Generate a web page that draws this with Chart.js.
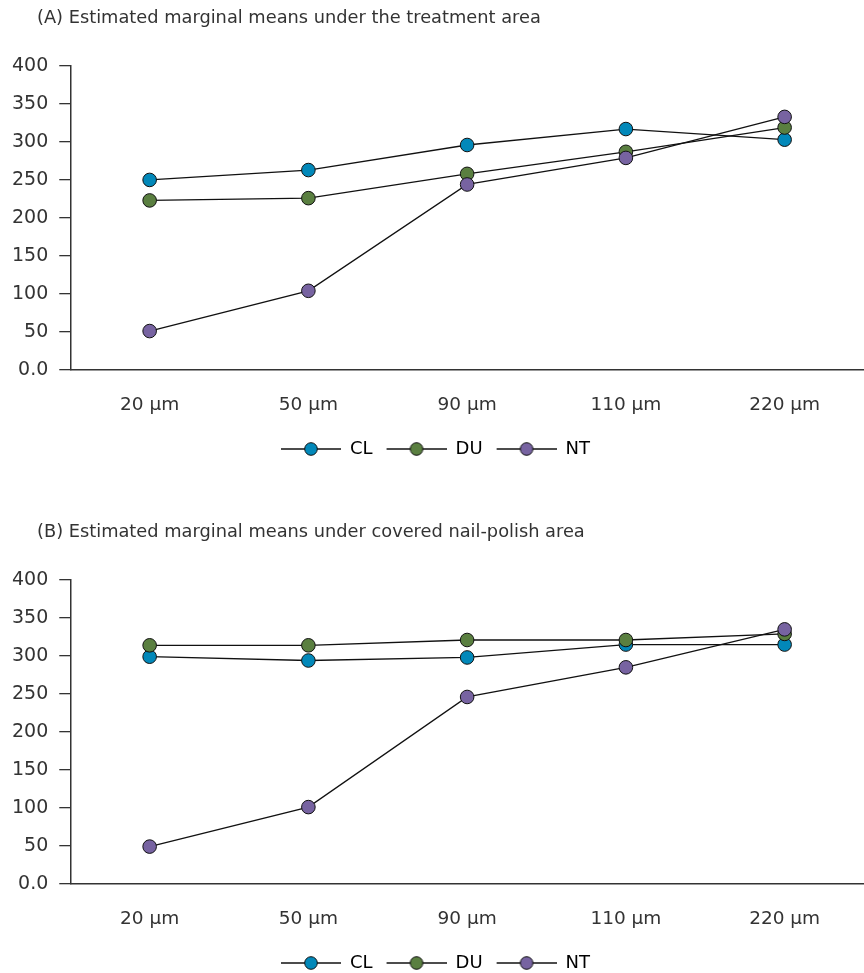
<!DOCTYPE html>
<html>
<head>
<meta charset="utf-8">
<script src="https://cdn.jsdelivr.net/npm/chart.js@4"></script>
<style>
  html, body { margin: 0; padding: 0; background: #fff; overflow: hidden; }
  canvas { display: block; }
</style>
</head>
<body>
<canvas id="chartA" width="864" height="514"></canvas>
<canvas id="chartB" width="864" height="459"></canvas>
<script>
const categories = ['20 μm', '50 μm', '90 μm', '110 μm', '220 μm']
const seriesNames = ['CL', 'DU', 'NT']
const seriesColors = ['#0288b9', '#5a7f40', '#7763a1']

// (A) treatment area
const treatCL = [250, 263, 296, 317, 303]
const treatDU = [223, 226, 258, 287, 319]
const treatNT = [51, 104, 244, 279, 333]

// (B) covered nail-polish area
const coverCL = [299, 294, 298, 315, 315]
const coverDU = [314, 314, 321, 321, 329]
const coverNT = [49, 101, 246, 285, 335]

const yTicks = [0, 50, 100, 150, 200, 250, 300, 350, 400]

const textColor = '#333333'
const fontFamily = '"DejaVu Sans", sans-serif'
Chart.defaults.font.family = fontFamily
Chart.defaults.color = textColor

// legend swatch: short line with a marker in the middle (6px blank on the left)
function makeSwatch(color) {
  const c = document.createElement('canvas')
  c.width = 66
  c.height = 16
  const g = c.getContext('2d')
  g.strokeStyle = '#111'
  g.lineWidth = 1.3
  g.beginPath()
  g.moveTo(6, 8)
  g.lineTo(66, 8)
  g.stroke()
  g.beginPath()
  g.arc(36, 8, 6.3, 0, Math.PI * 2)
  g.fillStyle = color
  g.fill()
  g.lineWidth = 1
  g.stroke()
  return c
}
const swatches = seriesColors.map(makeSwatch)

const headline = {
  id: 'headline',
  afterDraw: chart => {
    const ctx = chart.ctx
    ctx.save()
    ctx.font = '17.8px ' + fontFamily
    ctx.fillStyle = textColor
    ctx.textBaseline = 'middle'
    ctx.textAlign = 'left'
    ctx.fillText(chart.options.plugins.headline.text, 37, 18)
    ctx.restore()
  },
}

function buildChart(id, title, cl, du, nt, bottomPad) {
  const values = [cl, du, nt]
  const datasets = seriesNames.map((name, i) => ({
    label: name,
    data: values[i],
    borderColor: '#111',
    borderWidth: 1.3,
    backgroundColor: seriesColors[i],
    pointBackgroundColor: seriesColors[i],
    pointBorderColor: '#111',
    pointBorderWidth: 1,
    pointRadius: 6.8,
    pointHoverRadius: 6.8,
    tension: 0,
    clip: false,
    order: 3 - i,
  }))

  return new Chart(document.getElementById(id), {
    type: 'line',
    data: { labels: categories, datasets },
    plugins: [headline],
    options: {
      animation: false,
      responsive: false,
      events: [],
      layout: {
        autoPadding: false,
        padding: { top: 66, left: 1, right: 0, bottom: bottomPad },
      },
      scales: {
        y: {
          min: 0,
          max: 400,
          afterBuildTicks: axis => {
            axis.ticks = yTicks.map(v => ({ value: v }))
          },
          ticks: {
            font: { size: 19 },
            color: textColor,
            padding: 11,
            callback: v => (v === 0 ? '0.0' : String(v)),
          },
          grid: {
            display: true,
            drawOnChartArea: false,
            drawTicks: true,
            tickLength: 11,
            color: '#333',
            lineWidth: 1.3,
          },
          border: { display: true, color: '#333', width: 1.5 },
        },
        x: {
          offset: true,
          afterFit: axis => {
            axis.paddingLeft = 0
            axis.paddingRight = 0
          },
          ticks: {
            font: { size: 18.5 },
            color: textColor,
            padding: 16,
          },
          grid: { display: false },
          border: { display: true, color: '#333', width: 1.5 },
        },
      },
      plugins: {
        headline: { text: title },
        title: { display: false },
        tooltip: { enabled: false },
        legend: {
          position: 'bottom',
          labels: {
            usePointStyle: true,
            pointStyleWidth: 66,
            padding: 8,
            font: { size: 18 },
            color: textColor,
            generateLabels: () =>
              seriesNames.map((name, i) => ({
                text: name,
                pointStyle: swatches[i],
                fillStyle: seriesColors[i],
                strokeStyle: '#111',
                lineWidth: 0,
                datasetIndex: i,
                hidden: false,
              })),
          },
        },
      },
    },
  })
}

buildChart('chartA', '(A) Estimated marginal means under the treatment area', treatCL, treatDU, treatNT, 46)
buildChart('chartB', '(B) Estimated marginal means under covered nail-polish area', coverCL, coverDU, coverNT, -9)
</script>
</body>
</html>
